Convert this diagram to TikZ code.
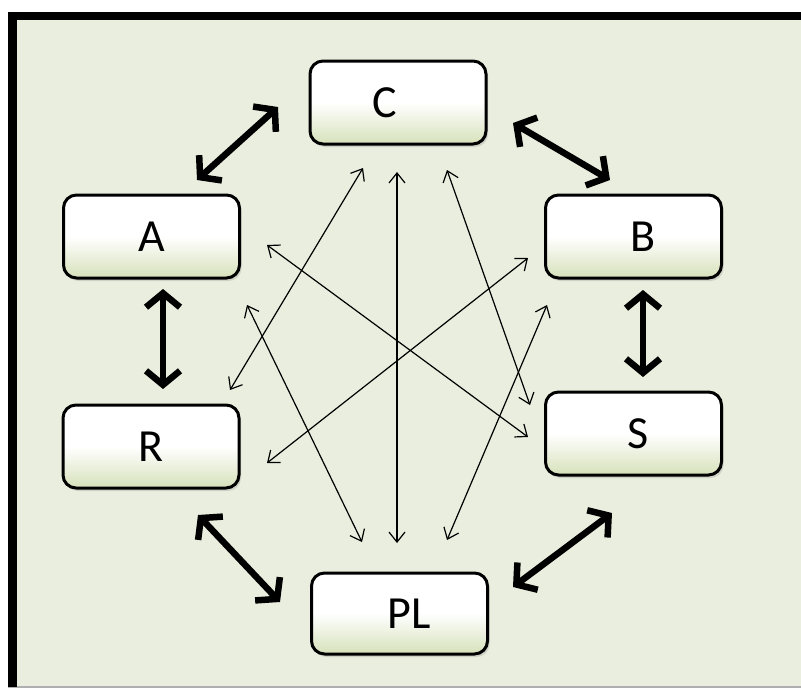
\documentclass[tikz,border=0pt]{standalone}
\usepackage{fontspec}
\setmainfont{Carlito}
\usetikzlibrary{arrows.meta,shadows}
\definecolor{bg}{RGB}{233,238,222}
\definecolor{nodebot}{RGB}{214,225,186}
\definecolor{rimgray}{RGB}{175,175,175}
\begin{document}
\begin{tikzpicture}[x=1pt,y=-1pt,
  box/.style={draw=black, line width=3pt, rounded corners=13pt,
    top color=white, bottom color=nodebot, middle color=white,
    minimum width=176pt, minimum height=83pt, inner sep=0pt,
    drop shadow={opacity=0.25, shadow xshift=2pt, shadow yshift=-3pt}},
  lab/.style={font=\fontsize{46}{50}\selectfont, inner sep=0pt},
  bigarrow/.style={line width=6.5pt, draw=black,
    {Straight Barb[length=14pt,width=34pt]}-{Straight Barb[length=14pt,width=34pt]}},
  thinarrow/.style={line width=1.2pt, draw=black,
    {Straight Barb[length=10pt,width=16pt]}-{Straight Barb[length=10pt,width=16pt]}}]
\useasboundingbox (0,0) rectangle (801,689);
% frame
\fill[bg] (8,12) rectangle (801,687);
\draw[rimgray, line width=2pt] (8,687) -- (801,687);
\draw[black, line width=8pt] (8,16) -- (801,16);
\draw[black, line width=9pt] (12.5,12) -- (12.5,687);
% nodes
\node[box, label={[lab, xshift=-13pt]center:C}]  (C)  at (398,102.5) {};
\node[box, label={[lab]center:A}]                (A)  at (151.5,236.5) {};
\node[box, label={[lab, xshift=10pt]center:B}]   (B)  at (633.5,236.5) {};
\node[box, label={[lab]center:R}]                (R)  at (151,446.5) {};
\node[box, label={[lab, xshift=5pt]center:S}]    (S)  at (633.5,433.5) {};
\node[box, minimum height=81pt, label={[lab, xshift=10pt]center:PL}] (PL) at (399.5,613.5) {};
% thick arrow end points
\coordinate (ca1) at (278,107); \coordinate (ca2) at (197,180);
\coordinate (cb1) at (513,123); \coordinate (cb2) at (610,180);
\coordinate (ar1) at (163,289); \coordinate (ar2) at (163,389);
\coordinate (bs1) at (643,290); \coordinate (bs2) at (643,377);
\coordinate (rp1) at (198,515); \coordinate (rp2) at (280,602);
\coordinate (sp1) at (612,513); \coordinate (sp2) at (513,587);
\draw[bigarrow] (ca1) -- (ca2);
\draw[bigarrow] (cb1) -- (cb2);
\draw[bigarrow] (ar1) -- (ar2);
\draw[bigarrow] (bs1) -- (bs2);
\draw[bigarrow] (rp1) -- (rp2);
\draw[bigarrow] (sp1) -- (sp2);
% thin arrow end points
\coordinate (cr1) at (363,168); \coordinate (cr2) at (230,390);
\coordinate (cp1) at (397,172); \coordinate (cp2) at (397,543);
\coordinate (cs1) at (447,170); \coordinate (cs2) at (530,405);
\coordinate (as1) at (267,245); \coordinate (as2) at (528,437);
\coordinate (br1) at (528,258); \coordinate (br2) at (267,463);
\coordinate (ap1) at (247,305); \coordinate (ap2) at (362,542);
\coordinate (bp1) at (547,305); \coordinate (bp2) at (447,540);
\draw[thinarrow] (cr1) -- (cr2);
\draw[thinarrow] (cp1) -- (cp2);
\draw[thinarrow] (cs1) -- (cs2);
\draw[thinarrow] (as1) -- (as2);
\draw[thinarrow] (br1) -- (br2);
\draw[thinarrow] (ap1) -- (ap2);
\draw[thinarrow] (bp1) -- (bp2);
\end{tikzpicture}
\end{document}
